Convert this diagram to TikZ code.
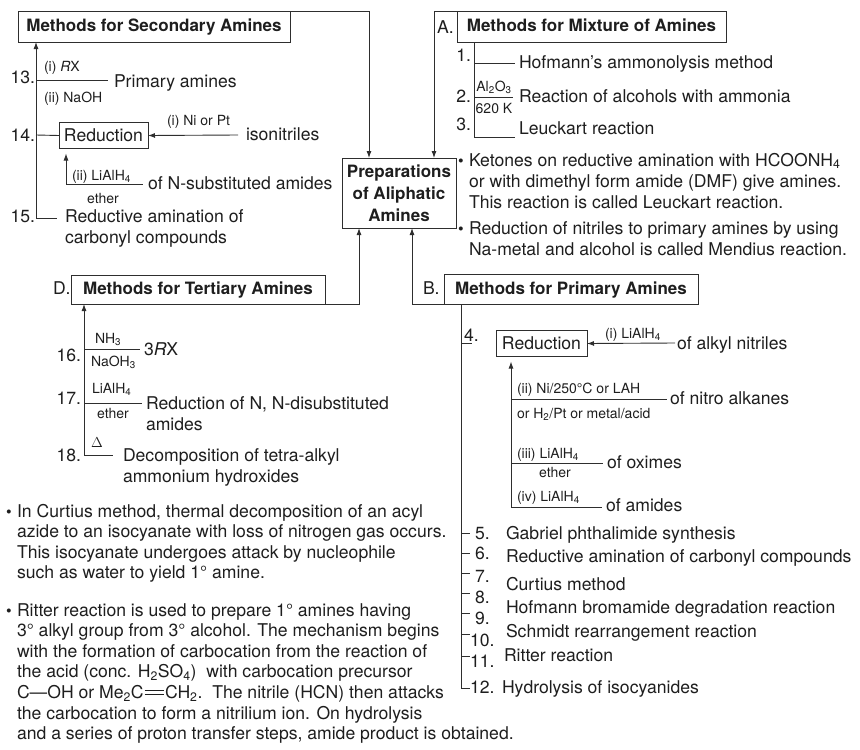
\documentclass[tikz,border=0pt]{standalone}
\usepackage{fontspec}
\setmainfont{TeX Gyre Heros}
\usetikzlibrary{arrows.meta}
\definecolor{ink}{HTML}{1E1E1E}
\definecolor{wirecol}{HTML}{2E2E2E}
\newcommand\bodyfs{\fontsize{17.6}{21}\selectfont}
\newcommand\parafs{\fontsize{17.6}{21}\selectfont}
\newcommand\notefs{\fontsize{17.6}{20.6}\selectfont}
\newcommand\labfs{\fontsize{14}{16}\selectfont}
\newcommand\headfs{\fontsize{17}{22}\selectfont\bfseries}
\newcommand\bulfs{\fontsize{16}{16}\selectfont}
% long double bond for Me2C=CH2
\newcommand\dbond{\kern1pt\rule[0.2em]{1.1em}{0.6pt}\kern-1.1em\rule[0.42em]{1.1em}{0.6pt}\kern1pt}
\begin{document}
\begin{tikzpicture}[x=1pt,y=-1pt,
  every node/.style={inner sep=0pt, outer sep=0pt, text=ink},
  wire/.style={draw=wirecol, line width=0.9pt},
  arr/.style={wire, -{Latex[length=7pt,width=5pt]}},
  headbox/.style={draw=wirecol, line width=0.9pt, font=\headfs, text height=12.3pt, text depth=1.5pt},
  redbox/.style={draw=wirecol, line width=0.9pt, font=\bodyfs, text height=12.6pt, text depth=0pt, minimum height=26pt},
  txt/.style={anchor=base west, font=\bodyfs},
  num/.style={anchor=base east, font=\bodyfs},
  lab/.style={anchor=base west, font=\labfs},
  labc/.style={anchor=base, font=\labfs},
  para/.style={anchor=north west, font=\parafs, align=left},
  note/.style={anchor=north west, font=\notefs, align=left},
  bul/.style={anchor=base, font=\bulfs},
]
\useasboundingbox (0,0) rectangle (860,750);

% ---------- central node ----------
\node[headbox, text height=, text depth=, minimum width=114pt, minimum height=70pt, align=center] (P) at (399,193)
  {Preparations\\of Aliphatic\\Amines};

% ---------- heading boxes ----------
\node[headbox, minimum width=272pt, minimum height=31pt] (S) at (154,26.5) {Methods for Secondary Amines};
\node[headbox, minimum width=269pt, minimum height=31pt] (M) at (591.5,26.5) {Methods for Mixture of Amines};
\node[headbox, minimum width=254pt, minimum height=29pt] (D) at (198,289.5) {Methods for Tertiary Amines};
\node[headbox, minimum width=254pt, minimum height=30pt] (B) at (571,289) {Methods for Primary Amines};
\node[txt] (Alab) at (437,33) {A.};
\node[txt] (Dlab) at (53,294) {D.};
\node[txt] (Blab) at (423,294) {B.};

% ---------- links into the central node ----------
\coordinate (sA) at (369,11);
\coordinate (mA) at (434,11);
\coordinate (dA) at (359,304);
\coordinate (bA) at (412,304);
\draw[arr] (S.north east) -- (sA) -- (sA |- P.north);
\draw[arr] (M.north west) -- (mA) -- (mA |- P.north);
\draw[arr] (D.south east) -- (dA) -- (dA |- P.south);
\draw[arr] (B.south west) -- (bA) -- (bA |- P.south);

% ---------- secondary amines ----------
\coordinate (s13) at (36,80);
\coordinate (s14) at (36,135);
\coordinate (s15) at (36,218);
\draw[arr] (s15) -- (s15 |- S.south);
\draw[wire] (s15) -- ++(21,0);
\draw[wire] (s13) -- ++(72,0);
\node[num] (n13) at (35,83) {13.};
\node[lab] (r13a) at (44,71) {(i) \textit{R}X};
\node[lab] (r13b) at (44,102) {(ii) NaOH};
\node[txt] (t13) at (114,87) {Primary amines};

\node[num] (n14) at (35,141) {14.};
\node[redbox, minimum width=89pt] (R1) at (103.5,135.5) {Reduction};
\draw[wire] (s14) -- (R1.west);
\coordinate (iso) at (238,135);
\draw[arr] (iso) -- (R1.east);
\node[lab] (r14a) at (167,125) {(i) Ni or Pt};
\node[txt] (t14a) at (246,140) {isonitriles};
\coordinate (s14b) at (66,184);
\draw[arr, shorten >=5pt] (s14b) -- (s14b |- R1.south);
\draw[wire] (s14b) -- ++(77,0);
\node[lab] (r14b) at (72,180) {(ii) LiAlH\textsubscript{4}};
\node[labc] (r14c) at (103,203) {ether};
\node[txt] (t14b) at (148,189) {of N-substituted amides};

\node[num] (n15) at (35,222) {15.};
\node[para] (t15) at (65,207.3) {\strut Reductive amination of\\carbonyl compounds};

% ---------- mixture of amines ----------
\coordinate (m3) at (474,137);
\draw[wire] (M.south -| m3) -- (m3) -- ++(41,0);
\draw[wire] (474,63) -- ++(41,0);
\draw[wire] (474,97) -- ++(39,0);
\node[num] (n1) at (471,61) {1.};
\node[num] (n2) at (471,102) {2.};
\node[num] (n3) at (471,130) {3.};
\node[txt] (t1) at (519,68) {Hofmann’s ammonolysis method};
\node[labc] (c2a) at (494,91) {Al\textsubscript{2}O\textsubscript{3}};
\node[labc] (c2b) at (494,113) {620 K};
\node[txt] (t2) at (519,102) {Reaction of alcohols with ammonia};
\node[txt] (t3) at (519,134) {Leuckart reaction};

% ---------- notes on the right ----------
\node[bul] (b1) at (461,166) {•};
\node[para] (p1) at (469,151.3) {\strut Ketones on reductive amination with HCOONH\textsubscript{4}\\or with dimethyl form amide (DMF) give amines.\\This reaction is called Leuckart reaction.};
\node[bul] (b2) at (461,234) {•};
\node[para] (p2) at (469,219.3) {\strut Reduction of nitriles to primary amines by using\\Na-metal and alcohol is called Mendius reaction.};

% ---------- tertiary amines ----------
\coordinate (d18) at (84,455);
\draw[arr] (d18) -- (d18 |- D.south);
\draw[wire] (d18) -- ++(29,0);
\draw[wire] (84,349) -- ++(56,0);
\draw[wire] (84,403) -- ++(58,0);
\node[num] (n16) at (81,361) {16.};
\node[num] (n17) at (81,404) {17.};
\node[num] (n18) at (81,461) {18.};
\node[lab] (c16a) at (95,343) {NH\textsubscript{3}};
\node[lab] (c16b) at (91,366) {NaOH\textsubscript{3}};
\node[txt] (t16) at (144,355) {3\textit{R}X};
\node[lab] (c17a) at (92,393) {LiAlH\textsubscript{4}};
\node[labc] (c17b) at (113,418) {ether};
\node[para] (t17) at (146,394.3) {\strut Reduction of N, N-disubstituted\\amides};
\node[labc] (c18) at (97,447) {$\Delta$};
\node[para] (t18) at (123,446.3) {\strut Decomposition of tetra-alkyl\\ammonium hydroxides};

% ---------- primary amines ----------
\coordinate (b12) at (461,688);
\draw[wire] (B.south -| b12) -- (b12) -- ++(9,0);
\draw[wire] (461,343) -- ++(11,0);
\foreach \k/\yy in {5/533,6/553,7/573,8/593,9/613,10/634,11/656}
  \draw[wire] (461,\yy) -- ++(9,0);
\node[anchor=base west, font=\bodyfs] (n4) at (464,341) {4.};
\node[redbox, minimum width=91pt] (R2) at (541.5,343.5) {Reduction};
\coordinate (nit) at (675,343);
\draw[arr] (nit) -- (R2.east);
\node[lab] (c4a) at (605,338) {(i) LiAlH\textsubscript{4}};
\node[txt] (t4a) at (677,349) {of alkyl nitriles};
\coordinate (b4) at (511,507);
\draw[arr, shorten >=5pt] (b4) -- (b4 |- R2.south);
\draw[wire] (b4) -- ++(91,0);
\draw[wire] (511,399) -- ++(156,0);
\draw[wire] (511,463) -- ++(92,0);
\node[lab] (c4b) at (517,393) {(ii) Ni/250°C or LAH};
\node[lab] (c4c) at (517,418) {or H\textsubscript{2}/Pt or metal/acid};
\node[txt] (t4b) at (670,404) {of nitro alkanes};
\node[lab] (c4d) at (517,458) {(iii) LiAlH\textsubscript{4}};
\node[labc] (c4e) at (555,477) {ether};
\node[txt] (t4c) at (607,468) {of oximes};
\node[lab] (c4f) at (517,501) {(iv) LiAlH\textsubscript{4}};
\node[txt] (t4d) at (606,511) {of amides};

\node[txt] (n5) at (475,539) {5.};
\node[txt] (n6) at (475,559) {6.};
\node[txt] (n7) at (475,582) {7.};
\node[txt] (n8) at (475,603) {8.};
\node[txt] (n9) at (475,624) {9.};
\node[txt] (n10) at (470,646) {10.};
\node[txt] (n11) at (470,667) {11.};
\node[txt] (n12) at (470,693) {12.};
\node[txt] (t5) at (506,539) {Gabriel phthalimide synthesis};
\node[txt] (t6) at (506,562) {Reductive amination of carbonyl compounds};
\node[txt] (t7) at (506,590) {Curtius method};
\node[txt] (t8) at (506,613) {Hofmann bromamide degradation reaction};
\node[txt] (t10) at (506,637) {Schmidt rearrangement reaction};
\node[txt] (t11) at (504,661) {Ritter reaction};
\node[txt] (t12) at (502,693) {Hydrolysis of isocyanides};

% ---------- notes at the bottom left ----------
\node[bul] (b3) at (9,517) {•};
\node[note] (p3) at (17,502.6) {\strut In Curtius method, thermal decomposition of an acyl\\azide to an isocyanate with loss of nitrogen gas occurs.\\This isocyanate undergoes attack by nucleophile\\such as water to yield 1° amine.};
\node[bul] (b4n) at (9,616) {•};
\node[note] (p4) at (17,601.6) {\strut Ritter reaction is used to prepare 1° amines having\\3° alkyl group from 3° alcohol. The mechanism begins\\with the formation of carbocation from the reaction of\\the acid (conc. H\textsubscript{2}SO\textsubscript{4})\ \ with carbocation precursor\\C—OH or Me\textsubscript{2}C\dbond CH\textsubscript{2}.\ \ The nitrile (HCN) then attacks\\the carbocation to form a nitrilium ion. On hydrolysis\\and a series of proton transfer steps, amide product is obtained.};
\end{tikzpicture}
\end{document}
